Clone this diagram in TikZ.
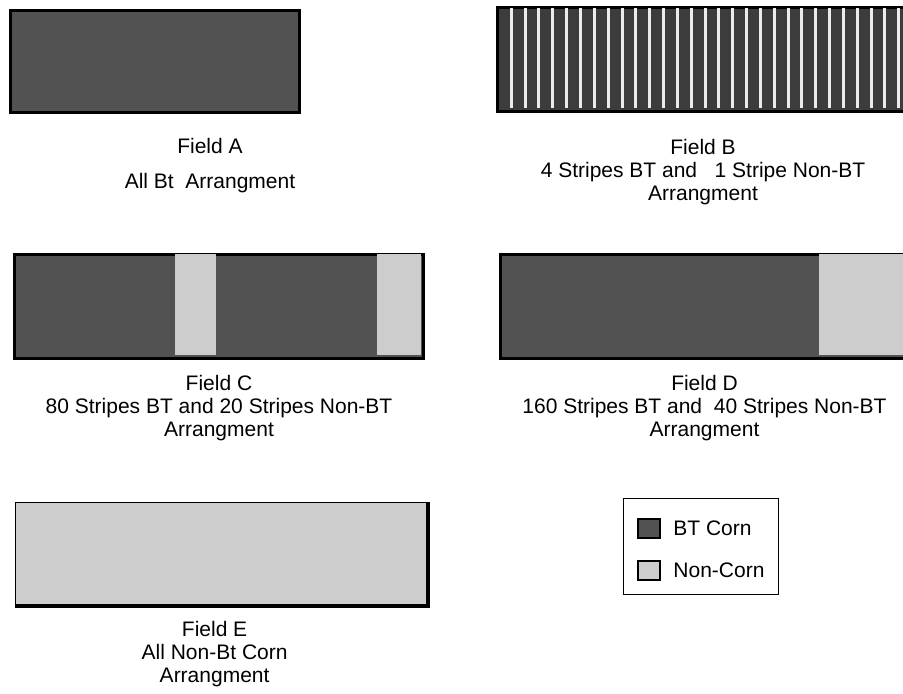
\documentclass[tikz,border=0pt]{standalone}
\usepackage{fontspec}
\setmainfont{Liberation Sans}
\usetikzlibrary{positioning}
\definecolor{btcorn}{HTML}{525252}
\definecolor{btdeep}{HTML}{3C3C3C}
\definecolor{noncorn}{HTML}{CDCDCD}
\definecolor{gap}{HTML}{ECECEC}

\begin{document}
\begin{tikzpicture}[x=0.5pt,y=-0.5pt,node distance=7.25pt,
 field/.style={draw,line width=1.5pt,inner sep=0pt,anchor=north west},
 caption/.style={align=center,inner sep=0pt,font=\fontsize{10.5}{11.5}\selectfont},
 swatch/.style={draw,line width=1pt,inner sep=0pt,minimum width=11pt,minimum height=9.5pt},
 keytext/.style={inner sep=0pt,font=\fontsize{10.5}{11.5}\selectfont}]
\clip (0,0) rectangle (903,694);
% Field A, all Bt
\node[field,fill=btcorn,minimum width=144.5pt,minimum height=51pt] (fa) at (9,9) {};
\node[caption,below=12pt of fa,xshift=27.5pt] (capA) {Field A\\[6pt]All Bt\ \ Arrangment};
% Field B, 4:1 stripes
\node[field,fill=btdeep,minimum width=205.5pt,minimum height=52pt] (fb) at (496,6) {};
\foreach \i in {0,...,28}
  \fill[gap] ({499+\i*13.84+10.8},8) rectangle ++(3,100);
\node[caption,below=12.75pt of fb] (capB) {Field B\\4 Stripes BT and\ \ \ 1 Stripe Non-BT\\Arrangment};
% Field C, 80 and 20 stripes
\node[field,fill=btcorn,minimum width=204.5pt,minimum height=52pt] (fc) at (13,253) {};
\fill[noncorn] (175,254.5) rectangle (216,355.5);
\fill[noncorn] (377,254.5) rectangle (420.5,355.5);
\node[caption,below=of fc] (capC) {Field C\\80 Stripes BT and 20 Stripes Non-BT\\Arrangment};
% Field D, 160 and 40 stripes
\node[field,fill=btcorn,minimum width=204pt,minimum height=52pt] (fd) at (499,253) {};
\fill[noncorn] (819,254.5) rectangle (905.5,355.5);
\node[caption,below=of fd] (capD) {Field D\\160 Stripes BT and\ \ 40 Stripes Non-BT\\Arrangment};
% Field E, all non-Bt
\node[field,line width=0.6pt,fill=noncorn,minimum width=206pt,minimum height=51.5pt] (fe) at (15,502) {};
\draw[line width=2pt] (fe.north east) -- (fe.south east) -- (fe.south west);
\node[caption,below=of fe,xshift=-3.5pt] (capE) {Field E\\All Non-Bt Corn\\Arrangment};
% legend
\node[draw,line width=0.6pt,inner sep=0pt,anchor=north west,minimum width=77.5pt,minimum height=48pt] (key) at (623,498) {};
\node[swatch,fill=btcorn] (keybt) at (649,528.5) {};
\node[swatch,fill=noncorn] (keynon) at (649,570) {};
\node[keytext,right=6pt of keybt] (txtbt) {BT Corn};
\node[keytext,right=6pt of keynon] (txtnon) {Non-Corn};
\end{tikzpicture}
\end{document}
